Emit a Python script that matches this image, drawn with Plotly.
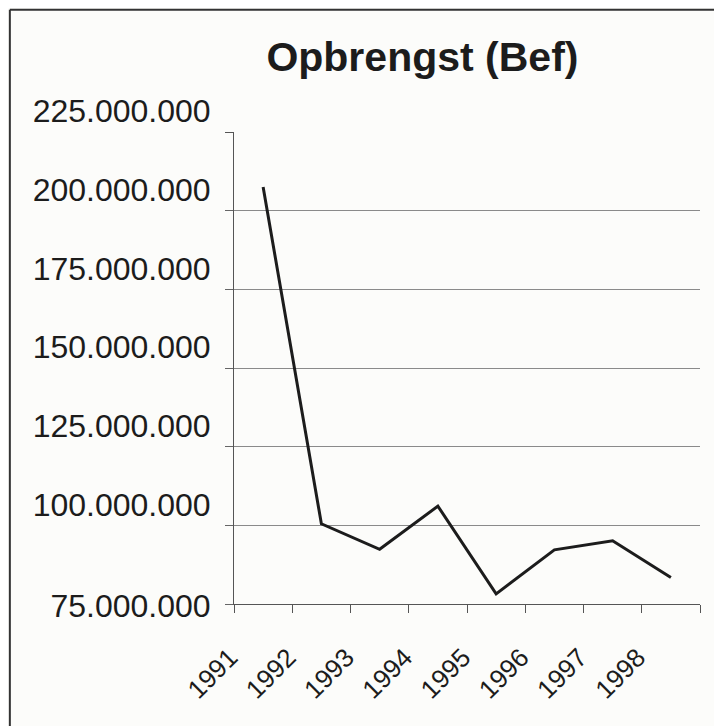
import plotly.graph_objects as go

years = ["1991", "1992", "1993", "1994", "1995", "1996", "1997", "1998"]
opbrengst = [207500000, 100500000, 92400000, 106100000, 78200000, 92200000, 95100000, 83400000]

label_vals = [100000000, 125000000, 150000000, 175000000, 200000000, 225000000]
grid_vals = [75000000, 100000000, 125000000, 150000000, 175000000, 200000000]
bottom_val = [75000000]


def fmt(v):
    return f"{v:,}".replace(",", ".")


FONT = "Liberation Sans, Arial, Helvetica, sans-serif"
INK = "#1c1c1c"

fig = go.Figure()
fig.add_trace(go.Scatter(
    x=years, y=opbrengst, mode="lines",
    line=dict(color=INK, width=3),
    showlegend=False, hoverinfo="skip",
))
# invisible trace to activate the overlay axis
fig.add_trace(go.Scatter(
    x=years, y=opbrengst, mode="lines", yaxis="y2",
    line=dict(color="rgba(0,0,0,0)", width=0),
    showlegend=False, hoverinfo="skip",
))

yr = [75000000, 225000000]

fig.update_layout(
    width=722, height=726,
    margin=dict(l=226, r=30, t=124, b=130, autoexpand=False),
    paper_bgcolor="#fcfcfa", plot_bgcolor="#fcfcfa",
    title=dict(text="<b>Opbrengst (Bef)</b>", x=0.574, xanchor="center",
               y=0.9325, yanchor="middle", automargin=False,
               font=dict(family=FONT, size=41, color=INK)),
    xaxis=dict(
        type="category", tickson="boundaries", automargin=False,
        ticks="outside", ticklen=8, tickcolor="#555", tickwidth=1,
        showline=True, linecolor="#555", linewidth=1,
        showgrid=False, tickangle=-45,
        tickfont=dict(family=FONT, size=26, color=INK),
        ticklabelshift=-33, ticklabelstandoff=27,
        range=[-0.5, 7.5],
    ),
    yaxis=dict(
        range=yr, tickvals=label_vals, ticktext=[fmt(v) for v in label_vals],
        automargin=False,
        ticks="outside", ticklen=8, tickcolor="#555", tickwidth=1,
        showline=True, linecolor="#555", linewidth=1,
        showgrid=False, zeroline=False,
        tickfont=dict(family=FONT, size=32, color=INK),
        ticklabelshift=-21, ticklabelstandoff=8,
    ),
    yaxis2=dict(
        range=yr, overlaying="y", side="left", anchor="x", automargin=False,
        tickvals=grid_vals,
        ticktext=[fmt(v) if v in bottom_val else "" for v in grid_vals],
        ticks="outside", ticklen=8, tickcolor="#666", tickwidth=1,
        showline=False, showgrid=True, gridcolor="#8a8a8a", gridwidth=1,
        zeroline=False,
        tickfont=dict(family=FONT, size=32, color=INK),
        ticklabelshift=2, ticklabelstandoff=8,
    ),
    shapes=[
        dict(type="line", xref="paper", yref="paper", x0=-0.481, x1=1.032,
             y0=1.259, y1=1.259, line=dict(color="#333", width=2)),
        dict(type="line", xref="paper", yref="paper", x0=-0.481, x1=-0.481,
             y0=1.259, y1=-0.3, line=dict(color="#333", width=2)),
    ],
)

fig.write_html("out.html")
